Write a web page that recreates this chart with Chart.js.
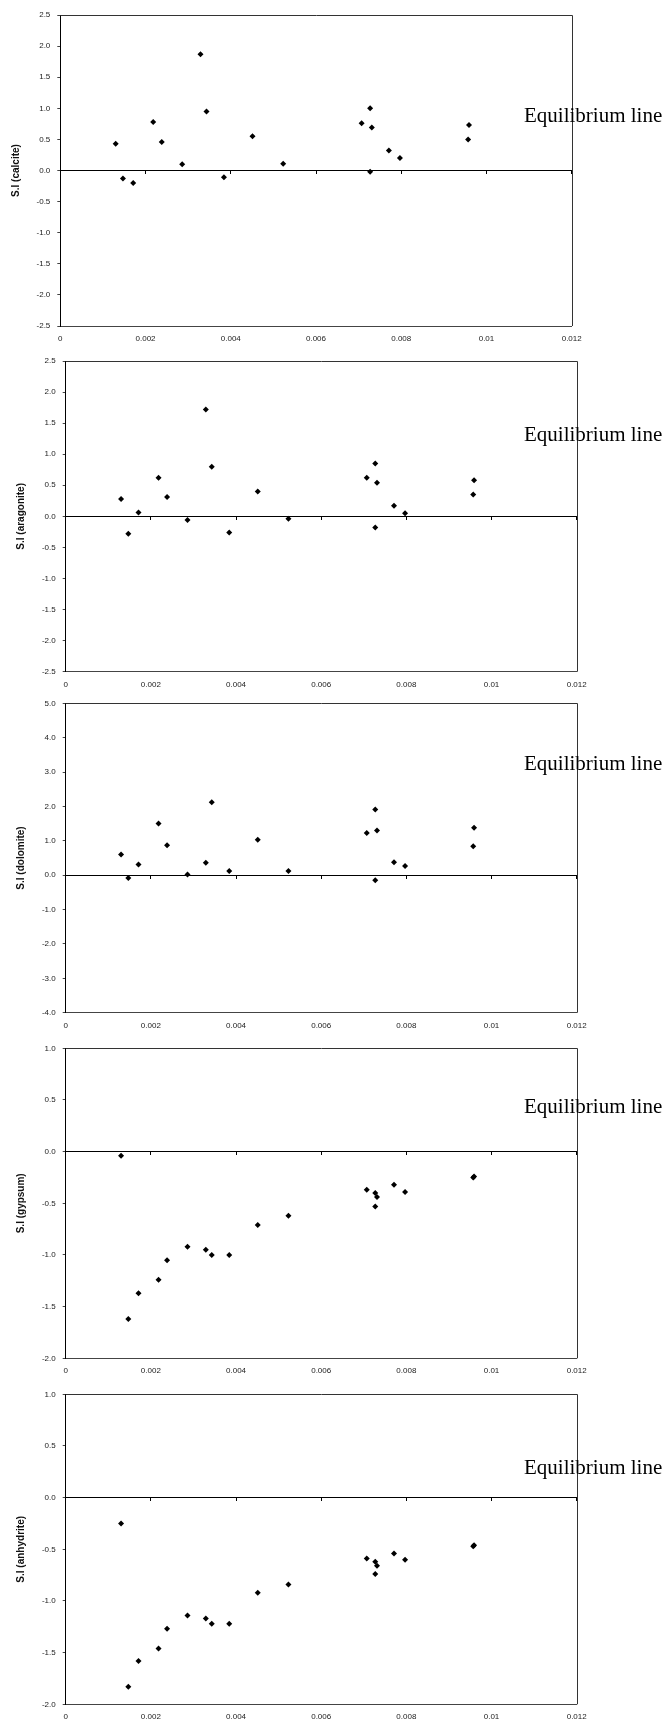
<!DOCTYPE html>
<html>
<head>
<meta charset="utf-8">
<script src="https://cdn.jsdelivr.net/npm/chart.js@4.4.1/dist/chart.umd.min.js"></script>
<style>
  html, body { margin: 0; padding: 0; background: #fff; overflow: hidden; }
  #page { position: relative; width: 665px; height: 1722px; }
  .panel { position: absolute; left: 0; }
  .eq { position: absolute; left: 524px; font-family: 'Liberation Serif', 'Times New Roman', serif;
        font-size: 21px; line-height: 21px; color: #000; white-space: nowrap; }
</style>
</head>
<body>
<div id="page"></div>
<script>
// x values shared by every panel (same samples)
const xValues = [0.0013, 0.00147, 0.00171, 0.00218, 0.00238, 0.00286, 0.00329, 0.00343, 0.00384, 0.00451,
                 0.00523, 0.00707, 0.00727, 0.00731, 0.00727, 0.00771, 0.00797, 0.00959, 0.00957];

// saturation indices
const calciteSI   = [0.43, -0.13, -0.20, 0.78, 0.46, 0.10, 1.87, 0.95, -0.11, 0.55, 0.11, 0.76, 1.00, 0.69, -0.02, 0.32, 0.20, 0.73, 0.50];
const aragoniteSI = [0.28, -0.28, 0.06, 0.62, 0.31, -0.06, 1.72, 0.80, -0.26, 0.40, -0.04, 0.62, 0.85, 0.54, -0.18, 0.17, 0.05, 0.58, 0.35];
const dolomiteSI  = [0.60, -0.08, 0.31, 1.50, 0.87, 0.02, 0.36, 2.12, 0.12, 1.03, 0.12, 1.23, 1.91, 1.30, -0.15, 0.38, 0.27, 1.38, 0.84];
const gypsumSI    = [-0.04, -1.62, -1.37, -1.24, -1.05, -0.92, -0.95, -1.00, -1.00, -0.71, -0.62, -0.37, -0.40, -0.44, -0.53, -0.32, -0.39, -0.24, -0.25];
const anhydriteSI = [-0.25, -1.83, -1.58, -1.46, -1.27, -1.14, -1.17, -1.22, -1.22, -0.92, -0.84, -0.59, -0.62, -0.66, -0.74, -0.54, -0.60, -0.46, -0.47];

const mineralNames = ['calcite', 'aragonite', 'dolomite', 'gypsum', 'anhydrite'];
const seriesList = [calciteSI, aragoniteSI, dolomiteSI, gypsumSI, anhydriteSI];

// axis ranges / tick steps
const xMin = 0, xMax = 0.012, xStep = 0.002;
const yMin  = [-2.5, -2.5, -4, -2, -2];
const yMax  = [2.5, 2.5, 5, 1, 1];
const yStep = [0.5, 0.5, 1, 0.5, 0.5];
const noteText = 'Equilibrium line';

// where each plot box sits on the page
const boxes = [
  { left: 60.3, right: 571.7, top: 15,     bottom: 326,    titlePad: 10, noteBase: 122.7 },
  { left: 65.7, right: 576.7, top: 361,    bottom: 671.7,  titlePad: 15, noteBase: 441.7 },
  { left: 65.7, right: 576.7, top: 703.3,  bottom: 1012.7, titlePad: 15, noteBase: 771 },
  { left: 65.7, right: 576.7, top: 1048.3, bottom: 1358.3, titlePad: 15, noteBase: 1114 },
  { left: 65.7, right: 576.7, top: 1394.3, bottom: 1704.3, titlePad: 15, noteBase: 1475 }
];

const font = { family: "'Liberation Sans', Arial, sans-serif", size: 8 };

// top and right edges of the plot box
const framePlugin = {
  id: 'frame',
  afterDraw(chart) {
    const { ctx, chartArea: a } = chart;
    const t = Math.round(a.top) + 0.5, r = Math.round(a.right) + 0.5;
    ctx.save();
    ctx.strokeStyle = '#333';
    ctx.lineWidth = 1;
    ctx.beginPath();
    ctx.moveTo(a.left, t);
    ctx.lineTo(r, t);
    ctx.lineTo(r, a.bottom);
    ctx.stroke();
    ctx.restore();
  }
};

const page = document.getElementById('page');

boxes.forEach((b, i) => {
  const canvasTop = Math.floor(b.top) - 12;
  const height = Math.ceil(b.bottom) - canvasTop + 18;
  const wrap = document.createElement('div');
  wrap.className = 'panel';
  wrap.style.top = canvasTop + 'px';
  const canvas = document.createElement('canvas');
  canvas.width = 665;
  canvas.height = height;
  canvas.style.width = '665px';
  canvas.style.height = height + 'px';
  wrap.appendChild(canvas);
  page.appendChild(wrap);

  const xAxisHeight = height - (b.bottom - canvasTop);

  new Chart(canvas.getContext('2d'), {
    type: 'scatter',
    data: {
      datasets: [{
        data: xValues.map((x, k) => ({ x: x, y: seriesList[i][k] })),
        pointStyle: 'rectRot',
        pointRadius: 3,
        pointHoverRadius: 3,
        backgroundColor: '#000',
        borderColor: '#000',
        borderWidth: 0
      }]
    },
    options: {
      responsive: false,
      animation: false,
      devicePixelRatio: 1,
      layout: { padding: { top: b.top - canvasTop, right: 665 - b.right, left: 0, bottom: 0 } },
      plugins: { legend: { display: false }, tooltip: { enabled: false } },
      scales: {
        x: {
          type: 'linear',
          position: 'bottom',
          min: xMin, max: xMax,
          ticks: {
            stepSize: xStep,
            font: font, color: '#222', padding: 8, maxRotation: 0,
            callback: v => String(Number(v.toFixed(3)))
          },
          grid: { display: false, drawTicks: false },
          border: { display: true, color: '#444', width: 1 },
          afterFit: s => { s.height = xAxisHeight; }
        },
        // the zero line, with its tick marks
        x2: {
          type: 'linear',
          axis: 'x',
          position: { y: 0 },
          min: xMin, max: xMax,
          ticks: { display: false, stepSize: xStep },
          grid: { display: true, drawOnChartArea: false, drawTicks: true, tickLength: 3, color: '#000' },
          border: { display: true, color: '#000', width: 1 }
        },
        y: {
          type: 'linear',
          position: 'left',
          min: yMin[i], max: yMax[i],
          ticks: {
            stepSize: yStep[i],
            font: font, color: '#222', padding: 7,
            callback: v => v.toFixed(1)
          },
          grid: { display: true, drawOnChartArea: false, drawTicks: true, tickLength: 3, color: '#444' },
          border: { display: true, color: '#000', width: 1 },
          title: {
            display: true,
            text: 'S.I (' + mineralNames[i] + ')',
            color: '#111',
            font: { family: "'Liberation Sans', Arial, sans-serif", size: 10, weight: 'bold' },
            padding: { top: b.titlePad, bottom: 0 }
          },
          afterFit: s => { s.width = b.left; }
        }
      }
    },
    plugins: [framePlugin]
  });

  const note = document.createElement('div');
  note.className = 'eq';
  note.style.top = (b.noteBase - 17.6) + 'px';
  note.textContent = noteText;
  page.appendChild(note);
});
</script>
</body>
</html>
